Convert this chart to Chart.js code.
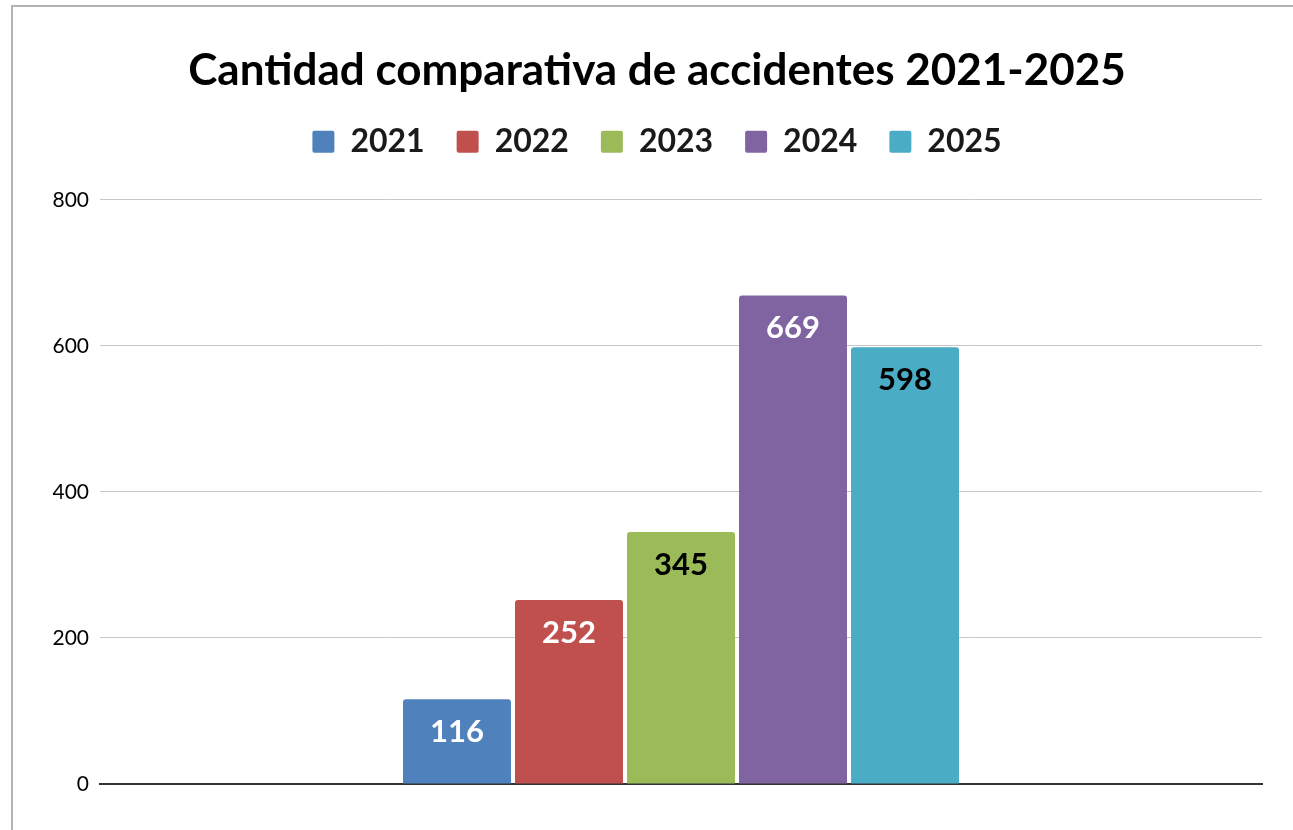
<!DOCTYPE html>
<html>
<head>
<meta charset="utf-8">
<script src="https://cdn.jsdelivr.net/npm/chart.js@4/dist/chart.umd.min.js"></script>
<style>
  html, body { margin: 0; padding: 0; background: #fff; overflow: hidden; width: 1293px; height: 830px; }
  #box { position: absolute; left: 11px; top: 5px; width: 1292px; height: 830px; border-left: 2px solid #b3b3b3; border-top: 2px solid #b3b3b3; box-sizing: border-box; }
  #wrap { position: absolute; left: 0; top: 0; width: 1290px; height: 823px; }
</style>
</head>
<body>
<div id="box"><div id="wrap"><canvas id="c"></canvas></div></div>
<script>
const categories = ['Accidentes'];
const seriesNames = ['2021', '2022', '2023', '2024', '2025'];
const seriesValues = [116, 252, 345, 669, 598];
const seriesColors = ['#4F81BD', '#C0504D', '#9BBB59', '#8064A2', '#4BACC6'];
const labelColors = ['#ffffff', '#ffffff', '#000000', '#ffffff', '#000000'];
const yTicks = [0, 200, 400, 600, 800];

const FONT = 'Lato, "Open Sans", sans-serif';

const datasets = seriesNames.map((name, i) => ({
  label: name,
  data: [seriesValues[i]],
  backgroundColor: seriesColors[i],
  borderRadius: 3,
  borderSkipped: 'bottom',
  categoryPercentage: 0.482,
  barPercentage: 0.964
}));

const valueLabels = {
  id: 'valueLabels',
  afterDatasetsDraw(chart) {
    const ctx = chart.ctx;
    ctx.save();
    ctx.font = 'bold 31px ' + FONT;
    ctx.textAlign = 'center';
    ctx.textBaseline = 'middle';
    chart.data.datasets.forEach((ds, i) => {
      const meta = chart.getDatasetMeta(i);
      meta.data.forEach((bar, j) => {
        ctx.fillStyle = labelColors[i];
        ctx.fillText(String(ds.data[j]), bar.x, bar.y + 33);
      });
    });
    ctx.restore();
  }
};

const legendSpacer = {
  id: 'legendSpacer',
  beforeInit(chart) {
    const origFit = chart.legend.fit;
    chart.legend.fit = function () {
      origFit.call(this);
      this.height += 32;
    };
  }
};

new Chart(document.getElementById('c'), {
  type: 'bar',
  data: { labels: categories, datasets },
  plugins: [valueLabels, legendSpacer],
  options: {
    responsive: true,
    maintainAspectRatio: false,
    animation: false,
    layout: { padding: { left: 39, right: 41, bottom: 46, top: 0 } },
    plugins: {
      title: {
        display: true,
        text: 'Cantidad comparativa de accidentes 2021-2025',
        color: '#000',
        font: { family: FONT, size: 44, weight: 'bold' },
        padding: { top: 37, bottom: -3 }
      },
      legend: {
        display: true,
        position: 'top',
        labels: {
          color: '#1a1a1a',
          font: { family: FONT, size: 32, weight: 'bold' },
          boxWidth: 22,
          boxHeight: 22,
          padding: 32,
          useBorderRadius: true,
          borderRadius: 2
        }
      },
      tooltip: { enabled: false }
    },
    scales: {
      x: {
        ticks: { display: false },
        grid: { display: false, drawTicks: false },
        border: { display: true, color: '#333333', width: 2 }
      },
      y: {
        min: 0,
        max: 800,
        afterBuildTicks(axis) { axis.ticks = yTicks.map(v => ({ value: v })); },
        afterFit(axis) { axis.width = 48; },
        ticks: {
          color: '#000',
          font: { family: FONT, size: 21 },
          padding: 11
        },
        grid: { color: '#c8c8c8', lineWidth: 1, drawTicks: false },
        border: { display: false }
      }
    }
  }
});
</script>
</body>
</html>
